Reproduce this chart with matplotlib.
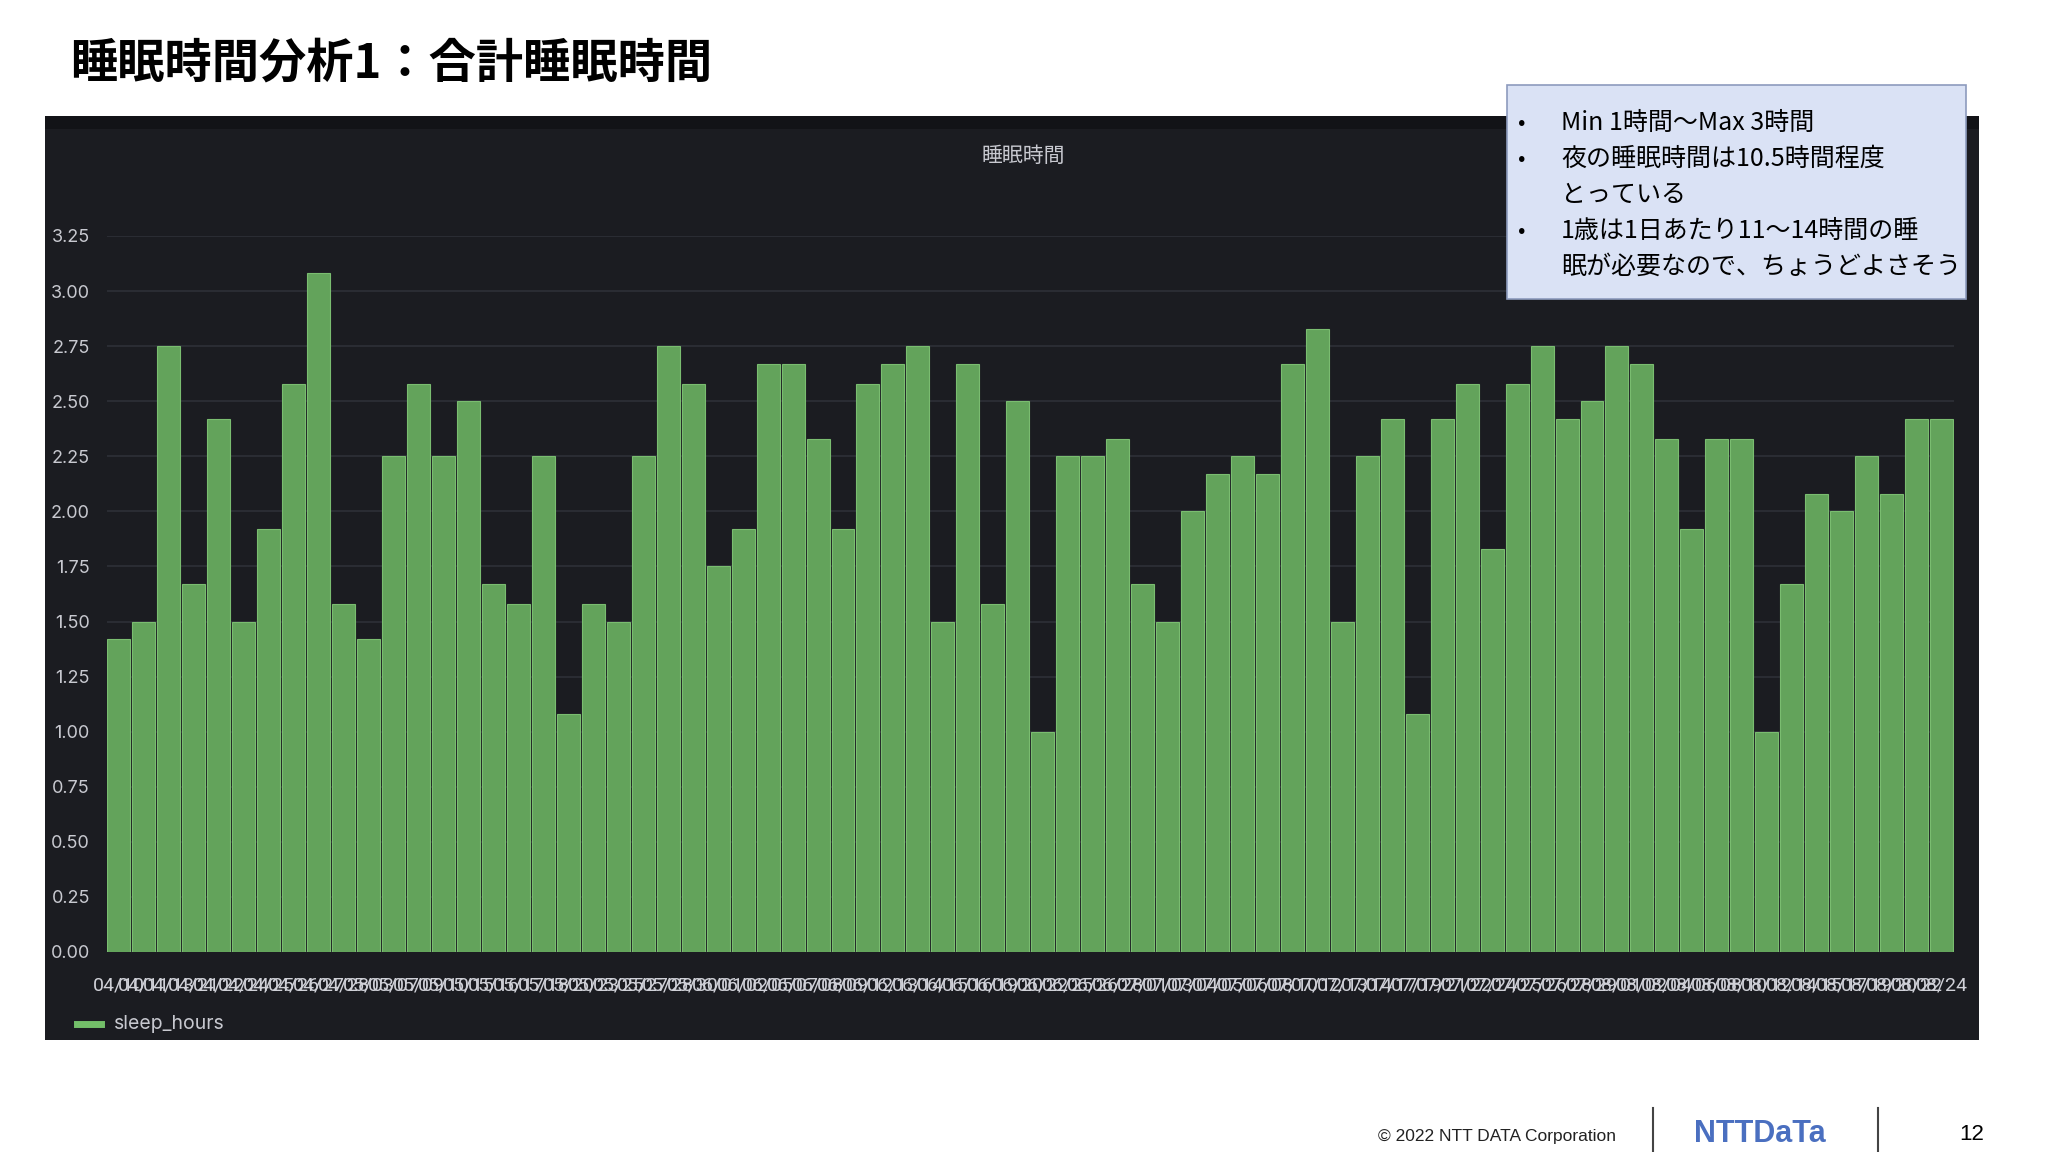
import matplotlib
matplotlib.use('Agg')
import matplotlib.pyplot as plt
from matplotlib.patches import Rectangle
from matplotlib.lines import Line2D

plt.rcParams['font.family'] = ['Noto Sans CJK JP', 'DejaVu Sans']

# ///////////////////////////////////////////////////////////////// data

TITLE = '睡眠時間分析1：合計睡眠時間'
PANEL_TITLE = '睡眠時間'
SERIES_NAME = 'sleep_hours'

dates = [
    '04/10', '04/11', '04/13', '04/21', '04/22', '04/24', '04/25', '04/26', '04/27', '04/28',
    '05/03', '05/07', '05/09', '05/10', '05/15', '05/16', '05/17', '05/18', '05/20', '05/23',
    '05/25', '05/27', '05/28', '05/30', '06/01', '06/02', '06/05', '06/07', '06/08', '06/09',
    '06/12', '06/13', '06/14', '06/15', '06/16', '06/19', '06/20', '06/22', '06/25', '06/26',
    '06/28', '07/01', '07/03', '07/04', '07/05', '07/06', '07/08', '07/10', '07/12', '07/13',
    '07/14', '07/17', '07/19', '07/21', '07/22', '07/24', '07/25', '07/26', '07/28', '07/29',
    '08/01', '08/02', '08/04', '08/06', '08/08', '08/10', '08/12', '08/14', '08/15', '08/17',
    '08/19', '08/20', '08/22', '08/24',
]
sleep_hours = [
    1.42, 1.50, 2.75, 1.67, 2.42, 1.50, 1.92, 2.58, 3.08, 1.58,
    1.42, 2.25, 2.58, 2.25, 2.50, 1.67, 1.58, 2.25, 1.08, 1.58,
    1.50, 2.25, 2.75, 2.58, 1.75, 1.92, 2.67, 2.67, 2.33, 1.92,
    2.58, 2.67, 2.75, 1.50, 2.67, 1.58, 2.50, 1.00, 2.25, 2.25,
    2.33, 1.67, 1.50, 2.00, 2.17, 2.25, 2.17, 2.67, 2.83, 1.50,
    2.25, 2.42, 1.08, 2.42, 2.58, 1.83, 2.58, 2.75, 2.42, 2.50,
    2.75, 2.67, 2.33, 1.92, 2.33, 2.33, 1.00, 1.67, 2.08, 2.00,
    2.25, 2.08, 2.42, 2.42,
]
y_ticks = [0.00, 0.25, 0.50, 0.75, 1.00, 1.25, 1.50, 1.75, 2.00, 2.25, 2.50, 2.75, 3.00, 3.25]

notes = [
    ('•', 'Min 1時間～Max 3時間'),
    ('•', '夜の睡眠時間は10.5時間程度'),
    ('', 'とっている'),
    ('•', '1歳は1日あたり11～14時間の睡'),
    ('', '眠が必要なので、ちょうどよさそう'),
]

# ///////////////////////////////////////////////////////////////// figure

W, H = 2048, 1152
fig = plt.figure(figsize=(W / 100, H / 100), dpi=100, facecolor='white')


def fx(px):
    return px / W


def fy(py):
    return 1 - py / H


# dark grafana panel
fig.patches.append(Rectangle((fx(45), fy(1040)), fx(1979) - fx(45), fy(116) - fy(1040),
                             transform=fig.transFigure, facecolor='#1b1c21', edgecolor='none', zorder=-2))
fig.patches.append(Rectangle((fx(45), fy(129)), fx(1979) - fx(45), fy(116) - fy(129),
                             transform=fig.transFigure, facecolor='#121317', edgecolor='none', zorder=-2))

# slide title
fig.text(fx(70), fy(64), TITLE, fontsize=34, fontweight='bold', color='black', va='center', ha='left')

# panel title
fig.text(fx(1023), fy(156), PANEL_TITLE, fontsize=15, color='#c8c9d0', ha='center', va='center')

# axes
ax = fig.add_axes([fx(106.5), fy(952), fx(1954) - fx(106.5), fy(236) - fy(952)])
ax.set_zorder(1)
ax.set_facecolor('none')
x = list(range(len(sleep_hours)))
ax.bar(x, sleep_hours, width=0.92, color='#63a35b', edgecolor='#7abd70', linewidth=0.8, zorder=3)
ax.set_xlim(-0.5, len(sleep_hours) - 0.5)
ax.set_ylim(0, 3.25)
ax.set_yticks(y_ticks)
ax.set_yticklabels([f'{t:.2f}' for t in y_ticks], family=['Inter', 'DejaVu Sans'])
ax.set_xticks(x)
ax.set_xticklabels(dates, family=['Roboto', 'DejaVu Sans'])
for s in ax.spines.values():
    s.set_visible(False)
ax.grid(axis='y', color='#2e3037', linewidth=1.2, zorder=0)
ax.tick_params(axis='y', length=0, pad=12, labelsize=13, labelcolor='#c8c9d0')
ax.tick_params(axis='x', length=0, pad=18, labelsize=14, labelcolor='#d0d1d8')

# legend
fig.lines.append(Line2D([fx(77), fx(101)], [fy(1024), fy(1024)], transform=fig.transFigure,
                        color='#73bf69', linewidth=5))
fig.text(fx(114), fy(1024), SERIES_NAME, fontsize=14, color='#c8c9d0', va='center', ha='left',
         family=['Inter', 'DejaVu Sans'])

# annotation box
fig.patches.append(Rectangle((fx(1507), fy(299)), fx(1966) - fx(1507), fy(85) - fy(299),
                             transform=fig.transFigure, facecolor='#dae2f5', edgecolor='#8d9bbd',
                             linewidth=1.2, zorder=5))
for i, (bullet, line) in enumerate(notes):
    yy = fy(123 + i * 36)
    if bullet:
        fig.text(fx(1518), yy, bullet, fontsize=16, color='black', va='center', ha='left', zorder=6)
    fig.text(fx(1561), yy, line, fontsize=18, color='black', va='center', ha='left', zorder=6)

# footer
fig.text(fx(1378), fy(1136), '© 2022 NTT DATA Corporation', fontsize=12.5, color='#222222',
         va='center', ha='left', family=['Liberation Sans', 'DejaVu Sans'])
for xs in (1653, 1878):
    fig.lines.append(Line2D([fx(xs), fx(xs)], [fy(1108), fy(1152)], transform=fig.transFigure,
                            color='#444444', linewidth=1.5))
fig.text(fx(1760), fy(1134), 'NTTDaTa', fontsize=22, fontweight='bold', color='#4a6fc0',
         va='center', ha='center', family=['Liberation Sans', 'DejaVu Sans'])
fig.text(fx(1972), fy(1135), '12', fontsize=16, color='black', va='center', ha='center',
         family=['Liberation Sans', 'DejaVu Sans'])

fig.savefig('out.png', dpi=100, facecolor='white')
